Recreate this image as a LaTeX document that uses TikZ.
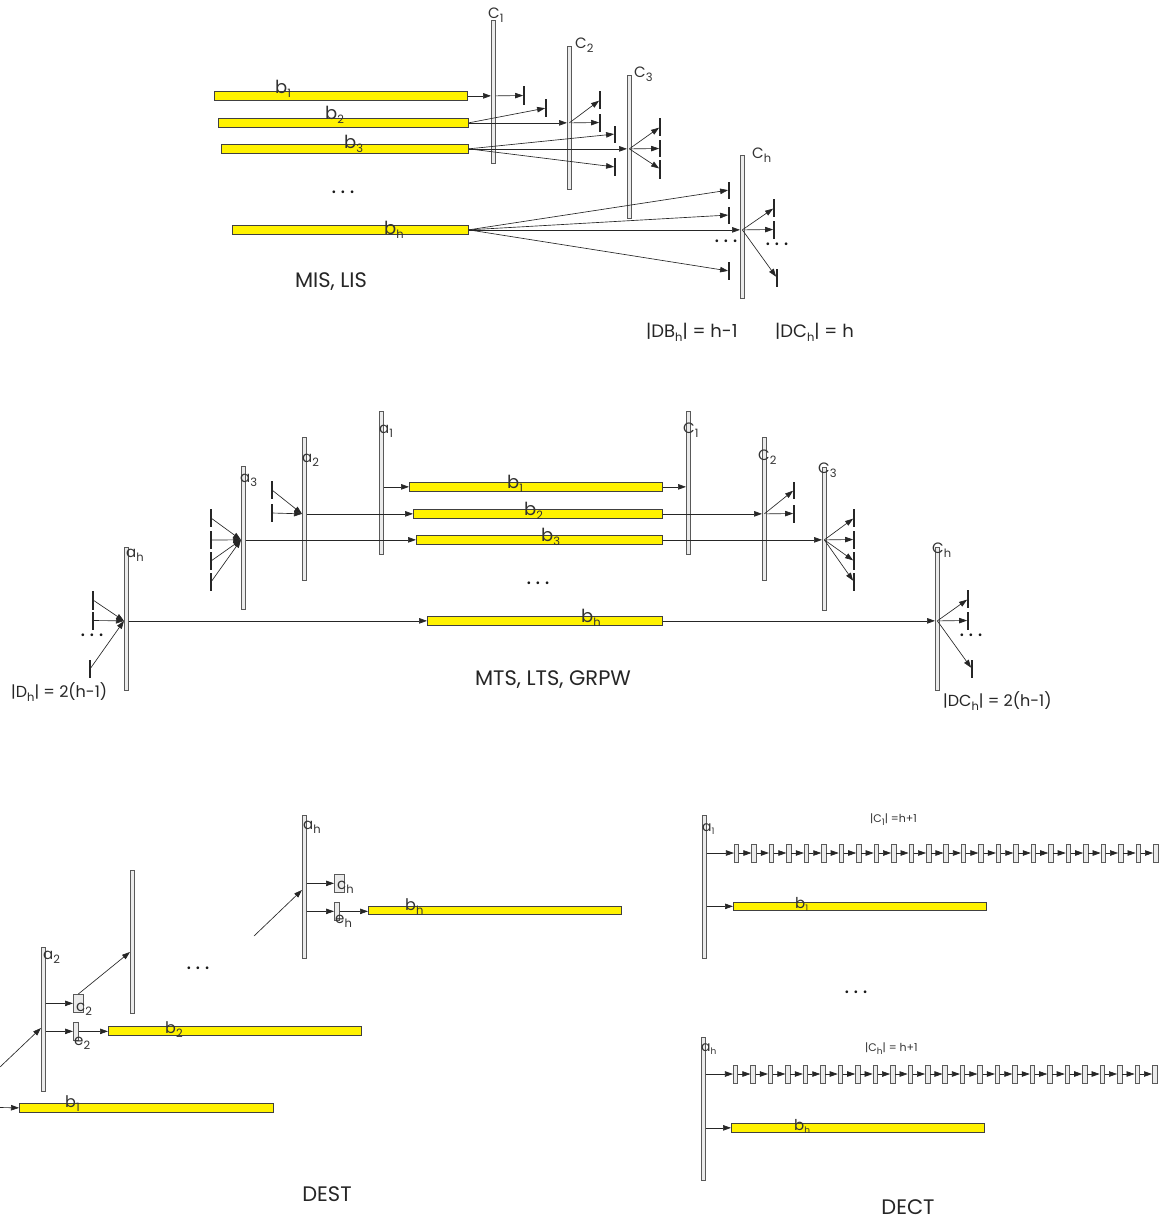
\documentclass[tikz,border=0pt]{standalone}
\usepackage{fontspec}
\setmainfont{Poppins}
\usetikzlibrary{arrows.meta,calc}
\definecolor{ybfill}{HTML}{FFF200}
\newcommand\Sb[1]{\raisebox{-4.5pt}{\fontsize{11.5}{11.5}\selectfont #1}}
\newcommand\Ss[1]{\raisebox{-3pt}{\fontsize{9}{9}\selectfont #1}}
\newcommand\Dts{.\hspace{4.5pt}.\hspace{4.5pt}.}
\newcommand\YB[5]{\node[ybst,minimum width=#4pt,minimum height=#5pt] (#1) at (#2,#3) {};}
\newcommand\VB[5]{\node[vbst,minimum width=#4pt,minimum height=#5pt] (#1) at (#2,#3) {};}
\newcommand\TK[4]{\node[tkst,minimum height=#4pt] (#1) at (#2,#3) {};}
\begin{document}
\begin{tikzpicture}[x=1pt,y=-1pt,
  ybst/.style={rectangle,draw=black!75,fill=ybfill,line width=0.7pt,inner sep=0pt,anchor=north west},
  vbst/.style={rectangle,draw=black!65,fill=black!8,line width=0.7pt,inner sep=0pt,anchor=north west},
  tkst/.style={rectangle,fill=black!85,draw=none,inner sep=0pt,minimum width=1.4pt},
  cbox/.style={rectangle,draw=black!65,fill=black!8,line width=0.6pt,inner sep=0pt,minimum width=4.5pt,minimum height=18pt},
  ar/.style={-{Triangle[length=8pt,width=5.5pt]},line width=0.65pt,draw=black!85},
  lb/.style={anchor=base west,inner sep=0pt,text=black!80,font=\fontsize{18}{18}\selectfont},
  lc/.style={anchor=base west,inner sep=0pt,text=black!80,font=\fontsize{15}{15}\selectfont},
  ls/.style={anchor=base west,inner sep=0pt,text=black!80,font=\fontsize{15}{15}\selectfont},
  eq/.style={anchor=base west,inner sep=0pt,text=black!85,font=\fontsize{18}{18}\selectfont},
  tt/.style={inner sep=0pt,text=black!85,font=\fontsize{21}{21}\selectfont},
  dt/.style={inner sep=0pt,text=black!90,font=\fontsize{22}{22}\selectfont},
  sm/.style={anchor=base west,inner sep=0pt,text=black!80,font=\fontsize{11}{11}\selectfont}
]
\useasboundingbox (0,0) rectangle (1167,1224);
\fill[white] (0,0) rectangle (1167,1224);

% ================= Section 1: MIS, LIS =================
\YB{sb1}{214}{91}{253}{9}
\YB{sb2}{218}{118}{250}{9}
\YB{sb3}{221}{144}{247}{9}
\YB{sbh}{232}{225}{236}{9}
\VB{sc1}{491}{20}{4}{143}
\VB{sc2}{567}{46}{4}{143}
\VB{sc3}{627}{75}{4}{143}
\VB{sch}{740}{155}{4}{143}
\TK{t11}{524}{95.5}{19}
\TK{t12}{546}{108}{18}
\TK{t13}{600}{100}{18}
\TK{t14}{600}{122.5}{18}
\TK{t15}{615}{134}{17}
\TK{t16}{615}{167}{18}
\TK{t17}{660}{127}{18}
\TK{t18}{660}{148.5}{17}
\TK{t19}{660}{169}{19}
\TK{t1a}{729}{190}{17}
\TK{t1b}{729}{215}{17}
\TK{t1c}{729}{271}{18}
\TK{t1d}{774}{208}{18}
\TK{t1e}{774}{229.5}{18}
\TK{t1f}{777}{278}{18}

\draw[ar] (sb1.east) -- (sb1.east -| sc1.west);
\draw[ar] (sb1.east -| sc1.east) -- (t11);
\draw[ar] (sb2.east) -- (t12);
\draw[ar] (sb2.east) -- (sb2.east -| sc2.west);
\draw[ar] (sb2.east -| sc2.center) -- (t13);
\draw[ar] (sb2.east -| sc2.east) -- (t14);
\draw[ar] (sb3.east) -- (t15);
\draw[ar] (sb3.east) -- (sb3.east -| sc3.west);
\draw[ar] (sb3.east) -- (t16);
\draw[ar] (sb3.east -| sc3.center) -- (t17);
\draw[ar] (sb3.east -| sc3.east) -- (t18);
\draw[ar] (sb3.east -| sc3.center) -- (t19);
\draw[ar] (sbh.east) -- (t1a);
\draw[ar] (sbh.east) -- (t1b);
\draw[ar] (sbh.east) -- (sbh.east -| sch.west);
\draw[ar] (sbh.east) -- (t1c);
\draw[ar] (sbh.east -| sch.center) -- (t1d);
\draw[ar] (sbh.east -| sch.east) -- (t1e);
\draw[ar] (sbh.east -| sch.center) -- (t1f);

\node[lb] (lsb1) at (275,93) {b\Sb{1}};
\node[lb] (lsb2) at (325,119) {b\Sb{2}};
\node[lb] (lsb3) at (344,148) {b\Sb{3}};
\node[lb] (lsbh) at (384,234) {b\Sb{h}};
\node[lc] (lsc1) at (488,18) {C\Sb{1}};
\node[lc] (lsc2) at (575,48) {C\Sb{2}};
\node[lc] (lsc3) at (634,77) {C\Sb{3}};
\node[lc] (lsch) at (752,158) {C\Sb{h}};
\node[dt] (sd1) at (343,192) {\Dts};
\node[dt] (sd2) at (726,241) {\Dts};
\node[dt] (sd3) at (777,244) {\Dts};
\node[tt] (ttl1) at (331,282) {MIS, LIS};
\node[eq] (eq1) at (646,337) {|DB\Sb{h}| = h-1};
\node[eq] (eq2) at (775,337) {|DC\Sb{h}| = h};

% ================= Section 2: MTS, LTS, GRPW =================
\VB{ma1}{379}{411}{4}{143}
\VB{ma2}{302}{437}{4}{143}
\VB{ma3}{241}{466}{4}{143}
\VB{mah}{124}{547}{4}{143}
\VB{mc1}{686}{411}{4}{143}
\VB{mc2}{762}{437}{4}{143}
\VB{mc3}{822}{467}{4}{143}
\VB{mch}{935}{547}{4}{143}
\YB{mb1}{409}{482}{253}{9}
\YB{mb2}{413}{509}{249}{9}
\YB{mb3}{416}{535}{246}{9}
\YB{mbh}{427}{616}{235}{9}

\TK{t21}{272}{490}{18}
\TK{t22}{272}{513}{18}
\TK{t31}{211}{518}{18}
\TK{t32}{211}{540}{18}
\TK{t33}{211}{561}{18}
\TK{t34}{211}{582}{18}
\TK{t41}{93}{600}{19}
\TK{t42}{93}{620.5}{18}
\TK{t43}{90}{669}{18}
\TK{t51}{794}{490}{17}
\TK{t52}{794}{513.5}{18}
\TK{t61}{854}{518}{18}
\TK{t62}{854}{539.5}{18}
\TK{t63}{854}{561}{18}
\TK{t64}{854}{582}{18}
\TK{t71}{968}{599}{18}
\TK{t72}{968}{620.5}{18}
\TK{t73}{972}{669}{18}

\draw[ar] (mb1.west -| ma1.east) -- (mb1.west);
\draw[ar] (mb2.west -| ma2.east) -- (mb2.west);
\draw[ar] (mb3.west -| ma3.east) -- (mb3.west);
\draw[ar] (mbh.west -| mah.east) -- (mbh.west);
\draw[ar] (mb1.east) -- (mb1.east -| mc1.west);
\draw[ar] (mb2.east) -- (mb2.east -| mc2.west);
\draw[ar] (mb3.east) -- (mb3.east -| mc3.west);
\draw[ar] (mbh.east) -- (mbh.east -| mch.west);

\draw[ar] (t21) -- (mb2.west -| ma2.west);
\draw[ar] (t22) -- (mb2.west -| ma2.west);
\draw[ar] (t31) -- (mb3.west -| ma3.west);
\draw[ar] (t32) -- (mb3.west -| ma3.west);
\draw[ar] (t33) -- (mb3.west -| ma3.west);
\draw[ar] (t34) -- (mb3.west -| ma3.west);
\draw[ar] (t41) -- (mbh.west -| mah.west);
\draw[ar] (t42) -- (mbh.west -| mah.west);
\draw[ar] (t43) -- (mbh.west -| mah.west);

\draw[ar] (mb2.east -| mc2.center) -- (t51);
\draw[ar] (mb2.east -| mc2.east) -- (t52);
\draw[ar] (mb3.east -| mc3.center) -- (t61);
\draw[ar] (mb3.east -| mc3.east) -- (t62);
\draw[ar] (mb3.east -| mc3.center) -- (t63);
\draw[ar] (mb3.east -| mc3.center) -- (t64);
\draw[ar] (mbh.east -| mch.center) -- (t71);
\draw[ar] (mbh.east -| mch.east) -- (t72);
\draw[ar] (mbh.east -| mch.center) -- (t73);

\node[ls] (lma1) at (379,433) {a\Sb{1}};
\node[ls] (lma2) at (302,462) {a\Sb{2}};
\node[ls] (lma3) at (240,482) {a\Sb{3}};
\node[ls] (lmah) at (126,557) {a\Sb{h}};
\node[lc] (lmc1) at (683,433) {C\Sb{1}};
\node[lc] (lmc2) at (758,460) {C\Sb{2}};
\node[lc] (lmc3) at (818,473) {C\Sb{3}};
\node[lc] (lmch) at (932,553) {C\Sb{h}};
\node[lb] (lmb1) at (507,488) {b\Sb{1}};
\node[lb] (lmb2) at (524,515) {b\Sb{2}};
\node[lb] (lmb3) at (541,541) {b\Sb{3}};
\node[lb] (lmbh) at (581,622) {b\Sb{h}};
\node[dt] (md1) at (538,583) {\Dts};
\node[dt] (md2) at (92,635) {\Dts};
\node[dt] (md3) at (971,635) {\Dts};
\node[tt] (ttl2) at (553,680) {MTS, LTS, GRPW};
\node[eq,font=\fontsize{16}{16}\selectfont] (eq3) at (11,697) {|D\Sb{h}| = 2(h-1)};
\node[eq,font=\fontsize{16}{16}\selectfont] (eq4) at (943,706) {|DC\Sb{h}| = 2(h-1)};

% ================= Section 3: DEST =================
\VB{da2}{41}{947}{4}{144}
\VB{dc2}{73}{994}{10}{18}
\VB{de2}{73}{1022}{5}{18}
\YB{db2}{108}{1026}{253}{9}
\VB{dtall}{130}{870}{3.5}{143}
\YB{db1}{19}{1103}{254}{9}
\VB{dah}{302}{815}{4}{143}
\VB{dch}{334}{874}{10}{18}
\VB{deh}{334}{902}{5}{18}
\YB{dbh}{368}{906}{253}{8}
\coordinate (din2) at (0,1067);
\coordinate (din1) at (0,1107.5);
\coordinate (dinh) at (254,936);
\coordinate (dtin) at (130,952);
\coordinate (da2in) at (41,1028);
\coordinate (dahin) at (302,890);

\draw[ar] (dc2.west -| da2.east) -- (dc2.west);
\draw[ar] (de2.west -| da2.east) -- (de2.west);
\draw[ar] (de2.east) -- (de2.east -| db2.west);
\draw[ar] (dc2.north) -- (dtin);
\draw[ar] (din2) -- (da2in);
\draw[ar] (din1) -- (db1.west);
\draw[ar] (dch.west -| dah.east) -- (dch.west);
\draw[ar] (deh.west -| dah.east) -- (deh.west);
\draw[ar] (deh.east) -- (deh.east -| dbh.west);
\draw[ar] (dinh) -- (dahin);

\node[ls] (lda2) at (43,959) {a\Sb{2}};
\node[ls] (ldc2) at (76,1011) {c\Sb{2}};
\node[ls] (lde2) at (74,1045) {e\Sb{2}};
\node[lb,font=\fontsize{16}{16}\selectfont] (ldb2) at (165,1033) {b\Sb{2}};
\node[lb,font=\fontsize{16}{16}\selectfont] (ldb1) at (65,1107) {b\Sb{1}};
\node[ls] (ldah) at (303,829) {a\Sb{h}};
\node[ls] (ldch) at (337,889) {c\Sb{h}};
\node[ls] (ldeh) at (335,923) {e\Sb{h}};
\node[lb,font=\fontsize{16}{16}\selectfont] (ldbh) at (405,910) {b\Sb{h}};
\node[dt] (dd1) at (198,968) {\Dts};
\node[tt] (ttl3) at (327,1194) {DEST};

% ================= Section 4: DECT =================
\VB{ea1}{702}{815}{4}{143}
\VB{eah}{701}{1037}{4}{143}
\YB{eb1}{733}{902}{253}{8}
\YB{ebh}{731}{1123}{253}{9}
\foreach \i in {0,...,24} {
  \node[cbox] (ka\i) at ({736.5+17.46*\i},853) {};
  \node[cbox] (kb\i) at ({735.5+17.46*\i},1074) {};
}
\draw[ar] (ka0.west -| ea1.east) -- (ka0.west);
\draw[ar] (kb0.west -| eah.east) -- (kb0.west);
\foreach \i [evaluate=\i as \j using int(\i+1)] in {0,...,23} {
  \draw[ar] (ka\i.east) -- (ka\j.west);
  \draw[ar] (kb\i.east) -- (kb\j.west);
}
\draw[ar] (eb1.west -| ea1.east) -- (eb1.west);
\draw[ar] (ebh.west -| eah.east) -- (ebh.west);

\node[ls,font=\fontsize{14}{14}\selectfont] (lea1) at (702,831) {a\Ss{1}};
\node[ls,font=\fontsize{14}{14}\selectfont] (leah) at (701,1051) {a\Ss{h}};
\node[lb,font=\fontsize{15}{15}\selectfont] (leb1) at (795,908) {b\Ss{1}};
\node[lb,font=\fontsize{15}{15}\selectfont] (lebh) at (794,1130) {b\Ss{h}};
\node[sm] (lec1) at (870,822) {|C\Ss{1}| =h+1};
\node[sm] (lech) at (865,1051) {|C\Ss{h}| = h+1};
\node[dt] (ed1) at (856,992) {\Dts};
\node[tt] (ttl4) at (908,1207) {DECT};
\end{tikzpicture}
\end{document}
